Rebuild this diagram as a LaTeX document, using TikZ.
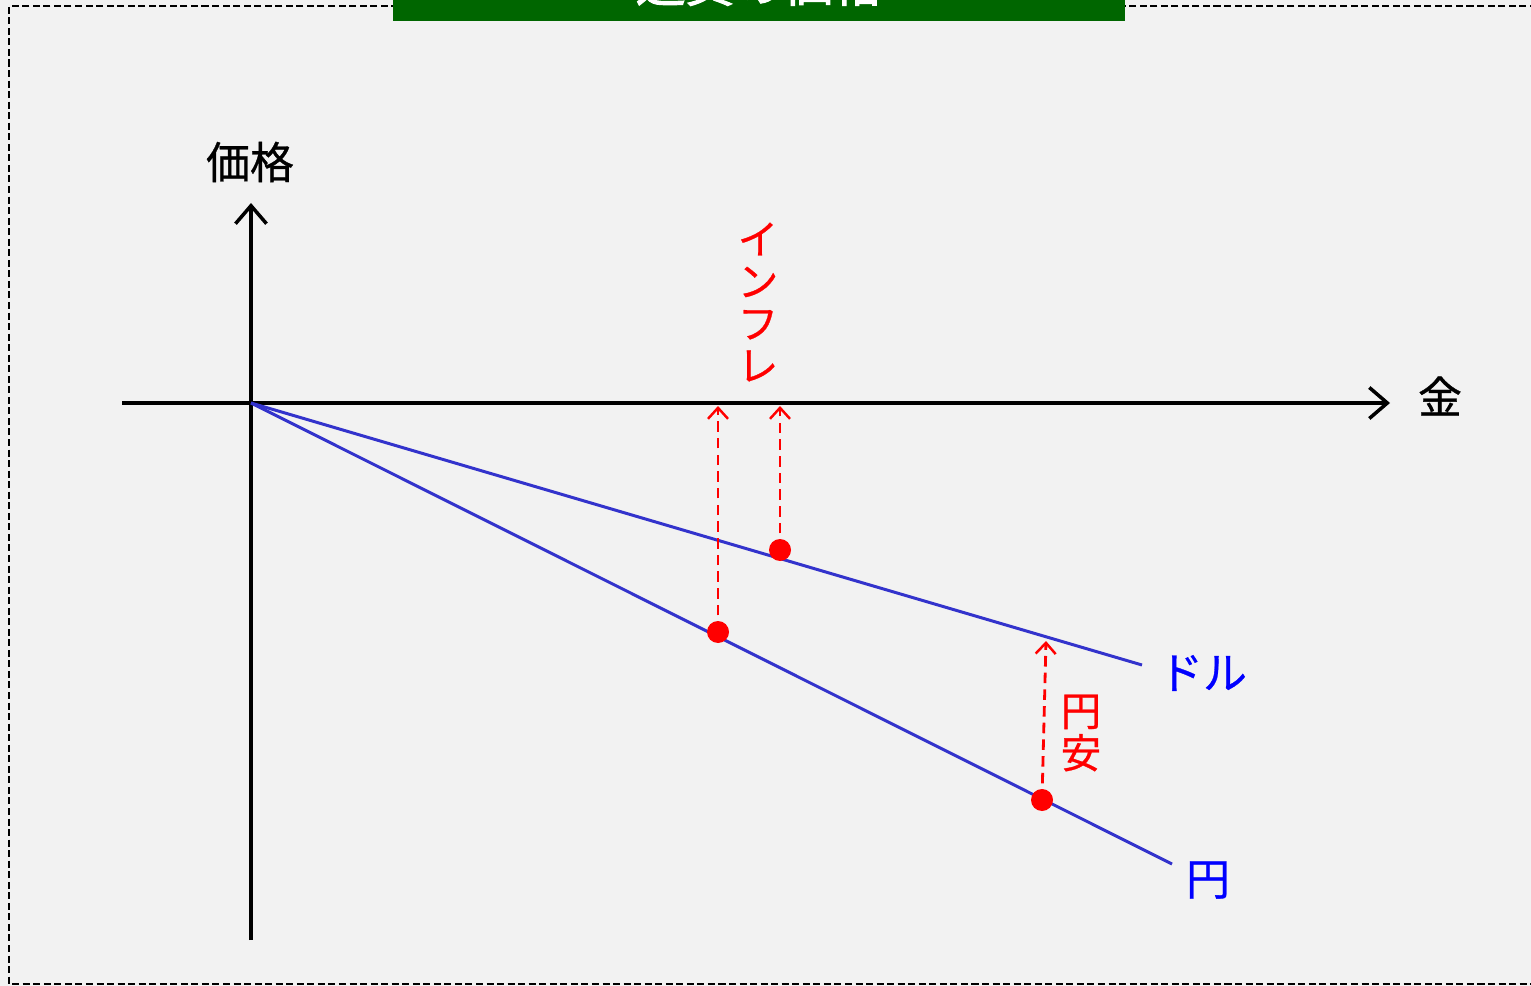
\documentclass[tikz,border=0pt]{standalone}
\usepackage{fontspec}
\setmainfont{Noto Sans CJK JP}[AutoFakeBold=2]
\newfontfamily\lblfont{Noto Sans CJK JP}[FakeBold=0.7]
\usepackage{tikz}
\usetikzlibrary{arrows.meta,positioning,calc}
\usepackage{xcolor}
\definecolor{bggray}{HTML}{F2F2F2}
\definecolor{titlegreen}{HTML}{006600}
\definecolor{lineblue}{HTML}{3333CC}
\definecolor{labelblue}{HTML}{0000FF}
\definecolor{markred}{HTML}{FF0000}

\begin{document}
\begin{tikzpicture}[
        x=0.02cm,y=-0.02cm,
        axis/.style={line width=2.1pt,-{Straight Barb[length=3.6mm,width=6.2mm,line width=2pt]}},
        curve/.style={lineblue,line width=1.7pt},
        rise/.style={markred,line width=1.6pt,dash pattern=on 6pt off 3.5pt,-{Straight Barb[length=2.2mm,width=4mm,line width=1.4pt]}},
        dot/.style={circle,fill=markred,inner sep=0pt,minimum size=4.4mm},
        lbl/.style={font=\lblfont\fontsize{25pt}{25pt}\selectfont,inner sep=0pt},
        vlbl/.style={markred,font=\lblfont\fontsize{23pt}{24pt}\selectfont,align=center,inner sep=0pt}
      ]
      % frame and title
      \useasboundingbox (0,0) rectangle (1531,986);
      \fill[bggray] (0,0) rectangle (1531,986);
      \draw[line width=0.9pt,dash pattern=on 4pt off 2pt] (1600,6) -- (9,6) -- (9,984) -- (1600,984);
      \fill[titlegreen] (393,-60) rectangle (1125,21);
      \node[white,font=\fontsize{28pt}{28pt}\selectfont\bfseries] (title) at (759,-17) {通貨の価格};

      % axes
      \coordinate (o) at (251,403);
      \coordinate (xs) at (122,403);
      \coordinate (xe) at (1390,403);
      \coordinate (ys) at (251,940);
      \coordinate (ye) at (251,203);
      \draw[axis] (xs) -- (xe);
      \draw[axis] (ys) -- (ye);
      \node[lbl] (price) at (250,162) {価格};
      \node[lbl] (money) at (1440,396) {金};

      % dollar and yen lines
      \coordinate (dEnd) at (1142,665);
      \coordinate (yEnd) at (1172,864);
      \draw[curve] (o) -- (dEnd);
      \draw[curve] (o) -- (yEnd);
      \node[lbl,labelblue] (dollar) at (1203,673) {ドル};
      \node[lbl,labelblue] (yen) at (1208,880) {円};

      % shifts
      \node[dot] (p1) at (718,632) {};
      \node[dot] (p2) at (780,550) {};
      \node[dot] (p3) at (1042,800) {};
      \coordinate (q1) at (718,406);
      \coordinate (q2) at (780,406);
      \coordinate (q3) at (1046,641);
      \draw[rise] (p1.center) -- (q1);
      \draw[rise] (p2.center) -- (q2);
      \draw[rise] (p3.center) -- (q3);
      \node[vlbl] (infl) at (758,302) {イ\\ン\\フ\\レ};
      \node[vlbl] (weak) at (1081,733) {円\\安};
    \end{tikzpicture}
\end{document}
